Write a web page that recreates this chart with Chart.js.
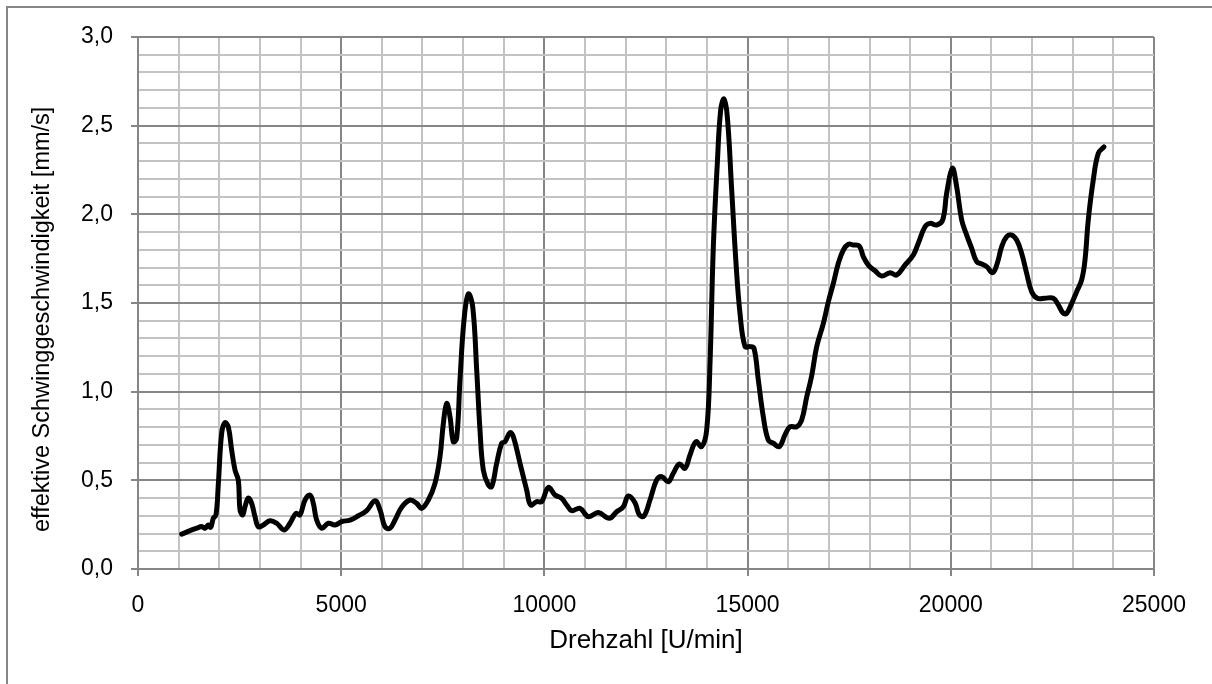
<!DOCTYPE html>
<html>
<head>
<meta charset="utf-8">
<title>Schwinggeschwindigkeit</title>
<script src="https://cdn.jsdelivr.net/npm/chart.js@4/dist/chart.umd.min.js"></script>
<style>
  html, body { margin: 0; padding: 0; background: #fff; }
  #wrap { width: 1212px; height: 684px; }
</style>
</head>
<body>
<div id="wrap"><canvas id="vibChart" width="1212" height="684"></canvas></div>
<script>
// Drehzahl in U/min
const rpm = [
  1075, 1280, 1444, 1567, 1649, 1731, 1788, 1854, 1919, 1977,
  2059, 2141, 2223, 2305, 2387, 2469, 2510, 2576, 2633, 2715,
  2797, 2879, 2961, 3084, 3248, 3412, 3593, 3740, 3888, 3986,
  4109, 4232, 4314, 4396, 4520, 4684, 4847, 5012, 5217, 5421,
  5627, 5832, 5955, 6078, 6201, 6324, 6488, 6693, 6857, 6980,
  7144, 7308, 7431, 7513, 7595, 7677, 7759, 7841, 7923, 8022,
  8129, 8236, 8334, 8415, 8497, 8620, 8703, 8826, 8949, 9031,
  9154, 9236, 9400, 9564, 9662, 9810, 9933, 10097, 10261, 10425,
  10548, 10671, 10876, 11081, 11327, 11598, 11778, 11942, 12065, 12229,
  12336, 12451, 12598, 12763, 12886, 13049, 13172, 13320, 13460, 13583,
  13730, 13870, 13993, 14075, 14157, 14255, 14338, 14419, 14501, 14609,
  14715, 14813, 14936, 15059, 15157, 15264, 15386, 15509, 15633, 15780,
  15920, 16043, 16208, 16331, 16454, 16577, 16700, 16864, 16987, 17110,
  17233, 17356, 17479, 17602, 17749, 17848, 17971, 18135, 18300, 18504,
  18668, 18873, 19078, 19200, 19365, 19488, 19652, 19800, 19898, 20037,
  20144, 20268, 20391, 20514, 20637, 20760, 20883, 21031, 21144, 21252,
  21375, 21498, 21621, 21744, 21867, 21990, 22128, 22318, 22522, 22645,
  22768, 22851, 22974, 23097, 23220, 23302, 23383, 23506, 23630, 23770
];

// effektive Schwinggeschwindigkeit in mm/s
const velocity = [
  0.197, 0.216, 0.230, 0.240, 0.230, 0.248, 0.235, 0.286, 0.305, 0.480,
  0.765, 0.825, 0.800, 0.670, 0.558, 0.500, 0.333, 0.305, 0.351, 0.400,
  0.370, 0.295, 0.238, 0.248, 0.272, 0.258, 0.220, 0.258, 0.314, 0.305,
  0.389, 0.417, 0.370, 0.276, 0.230, 0.258, 0.248, 0.267, 0.276, 0.300,
  0.329, 0.385, 0.333, 0.238, 0.230, 0.276, 0.348, 0.389, 0.370, 0.342,
  0.389, 0.483, 0.633, 0.820, 0.934, 0.859, 0.718, 0.737, 1.066, 1.404,
  1.551, 1.479, 1.122, 0.784, 0.558, 0.474, 0.464, 0.596, 0.709, 0.718,
  0.769, 0.746, 0.596, 0.445, 0.361, 0.380, 0.380, 0.460, 0.417, 0.398,
  0.361, 0.329, 0.342, 0.295, 0.318, 0.286, 0.323, 0.351, 0.412, 0.374,
  0.305, 0.299, 0.389, 0.502, 0.521, 0.492, 0.540, 0.592, 0.568, 0.643,
  0.718, 0.690, 0.784, 1.160, 1.818, 2.288, 2.588, 2.650, 2.550, 2.137,
  1.724, 1.442, 1.254, 1.254, 1.245, 1.066, 0.859, 0.727, 0.709, 0.690,
  0.756, 0.802, 0.802, 0.840, 0.970, 1.090, 1.254, 1.385, 1.507, 1.611,
  1.724, 1.799, 1.831, 1.827, 1.821, 1.761, 1.714, 1.682, 1.652, 1.671,
  1.658, 1.714, 1.771, 1.837, 1.930, 1.949, 1.940, 1.968, 2.119, 2.260,
  2.156, 1.968, 1.883, 1.808, 1.733, 1.720, 1.705, 1.671, 1.724, 1.818,
  1.874, 1.883, 1.855, 1.780, 1.667, 1.564, 1.527, 1.527, 1.527, 1.489,
  1.442, 1.442, 1.498, 1.564, 1.630, 1.742, 1.968, 2.194, 2.344, 2.380
];

// Achsen
const xMin = 0, xMax = 25000, xMinorStep = 1000, xMajorStep = 5000;
const yMin = 0, yMax = 3, yMinorStep = 0.1, yMajorStep = 0.5;

const FONT = "'Liberation Sans', Arial, sans-serif";
const majorGrid = '#868686';
const minorGrid = '#c3c3c3';

const isMajorX = v => Math.abs(v % xMajorStep) < 1e-6;
const isMajorY = v => Math.abs(Math.round(v * 10) % Math.round(yMajorStep * 10)) === 0;

// Rahmen des Diagrammbereichs
const framePlugin = {
  id: 'frame',
  beforeDraw(chart) {
    const c = chart.ctx;
    c.save();
    c.fillStyle = '#fff';
    c.fillRect(0, 0, chart.width, chart.height);
    c.strokeStyle = '#868686';
    c.lineWidth = 2;
    c.beginPath();
    c.moveTo(7, chart.height);
    c.lineTo(7, 7);
    c.lineTo(chart.width, 7);
    c.stroke();
    c.restore();
  }
};

const ctx = document.getElementById('vibChart').getContext('2d');

new Chart(ctx, {
  type: 'line',
  data: {
    datasets: [{
      data: rpm.map((x, i) => ({ x: x, y: velocity[i] })),
      borderColor: '#000',
      borderWidth: 5,
      pointRadius: 0,
      tension: 0.4,
      borderCapStyle: 'round',
      borderJoinStyle: 'round',
      fill: false
    }]
  },
  options: {
    responsive: false,
    animation: false,
    layout: { padding: { left: 0, top: 37, right: 58, bottom: 0 } },
    plugins: {
      legend: { display: false },
      tooltip: { enabled: false }
    },
    scales: {
      x: {
        type: 'linear',
        min: xMin,
        max: xMax,
        afterFit(scale) { scale.height = 115; },
        border: { color: majorGrid, width: 2 },
        grid: {
          color: c => isMajorX(c.tick.value) ? majorGrid : minorGrid,
          tickColor: c => isMajorX(c.tick.value) ? majorGrid : 'rgba(0,0,0,0)',
          lineWidth: 2,
          tickLength: 7,
          tickWidth: 2
        },
        ticks: {
          stepSize: xMinorStep,
          autoSkip: false,
          maxRotation: 0,
          padding: 16,
          color: '#000',
          font: { family: FONT, size: 23 },
          callback: v => isMajorX(v) ? String(v) : ''
        },
        title: {
          display: true,
          text: 'Drehzahl [U/min]',
          color: '#000',
          font: { family: FONT, size: 26 },
          padding: { top: 4, bottom: 28 }
        }
      },
      y: {
        min: yMin,
        max: yMax,
        afterFit(scale) { scale.width = 138; },
        border: { color: majorGrid, width: 2 },
        grid: {
          color: c => isMajorY(c.tick.value) ? majorGrid : minorGrid,
          tickColor: c => isMajorY(c.tick.value) ? majorGrid : 'rgba(0,0,0,0)',
          lineWidth: 2,
          tickLength: 7,
          tickWidth: 2
        },
        ticks: {
          stepSize: yMinorStep,
          autoSkip: false,
          padding: 18,
          color: '#000',
          font: { family: FONT, size: 23 },
          callback: v => isMajorY(v) ? v.toFixed(1).replace('.', ',') : ''
        },
        title: {
          display: true,
          // trailing spaces move the visible text slightly down, like the original
          text: 'effektive Schwinggeschwindigkeit [mm/s]     ',
          color: '#000',
          font: { family: FONT, size: 23.5 },
          padding: { top: 28, bottom: 28 }
        }
      }
    }
  },
  plugins: [framePlugin]
});
</script>
</body>
</html>
